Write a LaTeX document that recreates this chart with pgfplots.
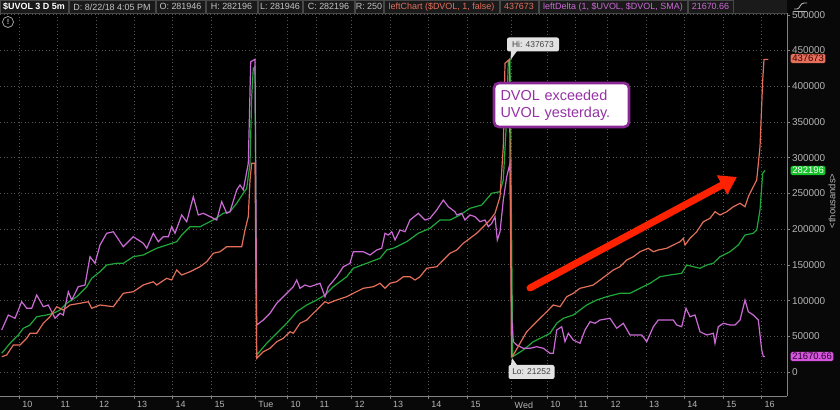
\documentclass[border=0pt]{standalone}
\usepackage{fontspec}
\setmainfont{Liberation Sans}
\usepackage{pgfplots}
\pgfplotsset{compat=1.18}
\usetikzlibrary{arrows.meta}
\definecolor{outerbg}{RGB}{8,8,8}
\definecolor{gridgray}{RGB}{85,85,85}
\definecolor{axisgray}{RGB}{130,130,130}
\definecolor{ticktext}{RGB}{180,180,180}
\definecolor{uvolgreen}{RGB}{30,168,58}
\definecolor{dvolred}{RGB}{228,112,92}
\definecolor{deltapink}{RGB}{204,106,214}
\definecolor{hdrbg}{RGB}{26,26,26}
\definecolor{hdrline}{RGB}{72,72,72}
\definecolor{hdrtext}{RGB}{195,195,195}
\definecolor{annpurple}{RGB}{138,40,150}
\definecolor{anntext}{RGB}{150,50,165}
\definecolor{arrowred}{RGB}{255,34,0}
\definecolor{lblgray}{RGB}{226,226,226}
\begin{document}
\begin{tikzpicture}
\fill[outerbg] (0,0) rectangle (840bp,410bp);
\useasboundingbox (0,0) rectangle (840bp,410bp);
\fill[black] (0,14bp) rectangle (787bp,397bp);
\begin{axis}[
  at={(0bp,14bp)}, anchor=south west,
  scale only axis, width=787bp, height=383bp,
  xmin=0, xmax=787, ymin=-33600, ymax=502600,
  axis x line*=bottom, axis y line*=right,
  axis line style={draw=axisgray, -, line width=0.8bp},
  xtick={19.3,57.7,96,134,172.7,211.7,255.3,287.7,316.7,351.7,390,428.3,467.7,511.7,547.3,575.7,607.7,646,684.3,723.3,761.7},
  xticklabels={10,11,12,13,14,15,Tue,10,11,12,13,14,15,Wed,10,11,12,13,14,15,16},
  ytick={0,50000,100000,150000,200000,250000,300000,350000,400000,450000,500000},
  yticklabels={0,50000,100000,150000,200000,250000,300000,350000,400000,450000,500000},
  grid=major,
  major grid style={gridgray, dash pattern=on 1bp off 2.5bp, line width=0.8bp},
  tick align=outside, major tick length=3bp,
  tick style={axisgray, line width=0.7bp},
  xticklabel style={anchor=north west, font=\fontsize{9}{9.5}\selectfont, text=ticktext, xshift=-0.5bp, yshift=0.8bp},
  yticklabel style={anchor=west, font=\fontsize{10}{11}\selectfont, text=ticktext, xshift=-1.5bp},
  scaled y ticks=false,
  clip=true,
]
\addplot[uvolgreen, line width=1.2bp] coordinates {
(1.7,26200)(10,40200)(18.3,51800)(23.3,61200)(30,65800)(36.7,77400)(46.7,79800)(53.3,82200)(60,86800)(66.7,96200)(76.7,105400)(86.7,119400)(91.7,131200)(100,140400)(106.7,149800)(116.7,152200)(123.3,152200)(133.3,161400)(143.3,163800)(146.7,166200)(156.7,173200)(166.7,177800)(176.7,182400)(181.7,191800)(190,203400)(200,203400)(213.3,212800)(223.3,222200)(230,224400)(236.7,236200)(243.3,250200)(246.7,257200)(250,292200)(251.7,385400)(253.3,425200)(255,427400)
(256.7,23800)(266.7,40200)(276.7,54200)(286.7,68200)(296.7,84400)(306.7,93800)(316.7,100800)(325,107800)(333.3,119400)(346.7,133400)(353.3,145200)(366.7,152200)(380,159200)(386.7,170800)(393.3,173200)(406.7,182400)(418.3,194200)(430,201200)(440,212800)(450,212800)(460,219800)(470,229200)(481.7,233800)(491.7,250200)(500,252400)(503.3,268800)(506,338800)(508.3,434400)(510,436800)
(512.7,21400)(523.3,30800)(533.3,42400)(543.3,49400)(550,54200)(556.7,68200)(563.3,75200)(573.3,79800)(580,86800)(586.7,93800)(596.7,100800)(606.7,105400)(620,110200)(630,110200)(640,117200)(650,124200)(660,133400)(670,135800)(681.7,138200)(686.7,149800)(693.3,147400)(700,145200)(706.7,149800)(713.3,152200)(720,161400)(730,168400)(738.3,177800)(745,191800)(753.3,194200)(756.7,198800)(760,226800)(762.7,278200)(765,282196)
};
\addplot[deltapink, line width=1.2bp] coordinates {
(1.7,58800)(8.3,79800)(15,75200)(21.7,98400)(26.7,89200)(31.7,89200)(36.7,107800)(43.3,91400)(48.3,93800)(55,75200)(60,82200)(63.3,79800)(68.3,112400)(71.7,100800)(78.3,119400)(85,121800)(90,161400)(95,152200)(100,177800)(106.7,194200)(113.3,196400)(123.3,175400)(133.3,189400)(143.3,180200)(146.7,173200)(153.3,194200)(158.3,182400)(163.3,189400)(168.3,189400)(171.7,203400)(175,194200)(181.7,219800)(186.7,210400)(193.3,245400)(198.3,219800)(203.3,222200)(213.3,215200)(216.7,212800)(221.7,238400)(226.7,222200)(230,224400)(236.7,254800)(240,261800)(243.3,254800)(248.3,292200)(250.7,434400)(255,437800)
(256.7,65800)(263.3,72800)(270,82200)(276.7,96200)(286.7,110200)(293.3,119400)(296.7,128800)(300,117200)(305,121800)(310,119400)(320,124200)(325,105400)(328.3,119400)(336.7,133400)(343.3,147400)(350,152200)(353.3,168400)(363.3,168400)(370,163800)(376.7,170800)(381.7,173200)(385,194200)(388.3,191800)(391.7,196400)(395,184800)(400,198800)(405,196400)(410,212800)(418.3,222200)(425,212800)(430,215200)(436.7,226800)(443.3,240800)(448.3,231400)(455,224400)(456.7,219800)(461.7,222200)(465,212800)(470,219800)(475,217400)(480,210400)(485,212800)(488.3,203400)(491.7,208000)(495,217400)(497.3,184800)(500,196400)(503.3,240800)(506.7,273400)(510,292200)
(511.7,77400)(513.3,42400)(516.7,37800)(523.3,33200)(530,33200)(536.7,35400)(543.3,33200)(550,26200)(553.3,26200)(556.7,58800)(561.7,63400)(565,42400)(568.3,54200)(573.3,44800)(580,40200)(585,58800)(590,70400)(595,68200)(600,72800)(610,75200)(616.7,61200)(623.3,68200)(630,51800)(636.7,51800)(641.7,51800)(646.7,42400)(653.3,63400)(658.3,72800)(666.7,72800)(673.3,72800)(676.7,65800)(681.7,63400)(686,89200)(690,77400)(695,79800)(700,56400)(706.7,51800)(713.3,54200)(715,40200)(718.3,63400)(723.3,68200)(730,65800)(735,65800)(740,72800)(745,100800)(748.3,84400)(753.3,79800)(758.3,72800)(761.7,30800)(763.3,21671)(765,21671)
};
\addplot[dvolred, line width=1.2bp] coordinates {
(1.7,21400)(6.7,23800)(13.3,37800)(20,37800)(26.7,47200)(30,54200)(36.7,54200)(43.3,68200)(50,77400)(56.7,91400)(63.3,86800)(70,93800)(80,96200)(88.3,98400)(91.7,89200)(100,93800)(113.3,91400)(123.3,110200)(133.3,112400)(143.3,121800)(153.3,126400)(156.7,121800)(166.7,131200)(171.7,128800)(176.7,142800)(181.7,135800)(190,140400)(200,147400)(206.7,154400)(213.3,166200)(220,168400)(226.7,175400)(233.3,175400)(241.7,175400)(245,198800)(248.3,217400)(250,268800)(251.7,292200)(255,292200)
(256.7,19200)(263.3,28400)(270,33200)(276.7,42400)(283.3,47200)(290,56400)(293.3,54200)(300,68200)(306.7,72800)(313.3,82200)(320,91400)(325,98400)(328.3,96200)(336.7,100800)(346.7,105400)(353.3,110200)(363.3,117200)(373.3,119400)(380,124200)(385,117200)(390,124200)(396.7,126400)(403.3,133400)(410,133400)(415,128800)(420,133400)(426.7,145200)(436.7,147400)(443.3,156800)(450,166200)(456.7,170800)(463.3,180200)(470,187200)(476.7,194200)(483.3,203400)(490,212800)(495,222200)(500,245400)(503.3,315400)(505,432200)(509.3,437673)
(511.5,21252)(513.3,23800)(520,40200)(526.7,56400)(533.3,65800)(540,75200)(546.7,84400)(553.3,93800)(560,91400)(566.7,105400)(573.3,110200)(580,117200)(586.7,119400)(593.3,121800)(600,128800)(606.7,135800)(613.3,142800)(620,147400)(626.7,156800)(633.3,161400)(640,168400)(648.3,173200)(653.3,168400)(658.3,170800)(666.7,173200)(673.3,177800)(680,182400)(683.3,187200)(685,177800)(690,187200)(696.7,196400)(703.3,210400)(710,215200)(715,224400)(720,219800)(726.7,224400)(733.3,231400)(740,236200)(745,231400)(748.3,245400)(753.3,259400)(756.7,268800)(760,315400)(762.7,408800)(764,437673)(768.3,437673)
};
\end{axis}
\begin{scope}[shift={(0bp,410bp)}, x=1bp, y=-1bp]
  % header bar
  \fill[hdrbg] (0,0) rectangle (787,13);
  \foreach \a/\b in {0/68,69/155,156/205,206/257,258/302,303/354,355/383,384/499,500/538,539/687,688/733}{
    \draw[hdrline, line width=0.6bp] (\a,0.3) rectangle (\b,13);
  }
  \draw[hdrline, line width=0.6bp] (0,13) -- (787,13);
  \node[font=\fontsize{9}{9}\selectfont\bfseries, text=white] at (34,6.8) {\$UVOL 3 D 5m};
  \node[font=\fontsize{9}{9}\selectfont, text=hdrtext] at (112,6.8) {D: 8/22/18 4:05 PM};
  \node[font=\fontsize{9}{9}\selectfont, text=hdrtext] at (180.5,6.8) {O: 281946};
  \node[font=\fontsize{9}{9}\selectfont, text=hdrtext] at (231.5,6.8) {H: 282196};
  \node[font=\fontsize{9}{9}\selectfont, text=hdrtext] at (280,6.8) {L: 281946};
  \node[font=\fontsize{9}{9}\selectfont, text=hdrtext] at (328.5,6.8) {C: 282196};
  \node[font=\fontsize{9}{9}\selectfont, text=hdrtext] at (369,6.8) {R: 250};
  \node[font=\fontsize{9}{9}\selectfont, text=dvolred] at (441.5,6.8) {leftChart (\$DVOL, 1, false)};
  \node[font=\fontsize{9}{9}\selectfont, text=dvolred] at (519,6.8) {437673};
  \node[font=\fontsize{9}{9}\selectfont, text=deltapink] at (613,6.8) {leftDelta (1, \$UVOL, \$DVOL, SMA)};
  \node[font=\fontsize{9}{9}\selectfont, text=deltapink] at (710.5,6.8) {21670.66};
  % icons
  \draw[ticktext, line width=0.7bp] (8,22) circle (5.5);
  \node[font=\fontsize{7.5}{8}\selectfont\bfseries, text=ticktext] at (8,22.3) {!};
  \draw[ticktext, line width=0.9bp] (794,9) -- (797,9) .. controls (800,9) and (800,3) .. (804,3) -- (807,3);
  \draw[ticktext, line width=0.9bp] (794,11.5) -- (807,11.5);
  % value boxes on the right
  \node[anchor=west, fill=dvolred, rounded corners=1.5bp, inner xsep=1.6bp, inner ysep=1.2bp, text=black!75!red, font=\fontsize{9.5}{10}\selectfont] at (790.5,58.5) {437673};
  \node[anchor=west, fill=uvolgreen!70!green, rounded corners=1.5bp, inner xsep=1.6bp, inner ysep=1.2bp, text=white, font=\fontsize{9.5}{10}\selectfont] at (790.5,170.5) {282196};
  \node[anchor=west, fill=deltapink!80!magenta, rounded corners=1.5bp, inner xsep=1.6bp, inner ysep=1.2bp, text=black!70!violet, font=\fontsize{9.5}{10}\selectfont] at (790.5,356.5) {21670.66};
  \node[rotate=90, text=ticktext, font=\fontsize{9.5}{10}\selectfont] at (832,201) {<thousands>};
  % hi / lo labels
  \fill[lblgray] (511,51) -- (517,51) -- (510.5,60) -- cycle;
  \node[fill=lblgray, rounded corners=2bp, text=black!75, font=\fontsize{8.5}{9}\selectfont, minimum width=52bp, minimum height=14bp, inner sep=1bp] at (533,44.5) {Hi: 437673};
  \fill[lblgray] (511,365) -- (517,365) -- (512,358) -- cycle;
  \node[fill=lblgray, rounded corners=2bp, text=black!75, font=\fontsize{8.5}{9}\selectfont, minimum width=46bp, minimum height=14bp, inner sep=1bp] at (531.5,372) {Lo: 21252};
  % annotation
  \node[draw=annpurple, line width=2.6bp, fill=white, rounded corners=5bp, text=anntext, align=left, font=\fontsize{14.5}{17.5}\selectfont, minimum width=135bp, minimum height=44bp, text width=122bp, inner xsep=6.5bp, inner ysep=2bp] at (561.5,105) {DVOL exceeded\\UVOL yesterday.};
  % red arrow
  \draw[arrowred, line width=7bp, line cap=round, -{Triangle[length=17bp,width=21bp]}] (530,288) -- (737,177);
\end{scope}
\end{tikzpicture}
\end{document}
